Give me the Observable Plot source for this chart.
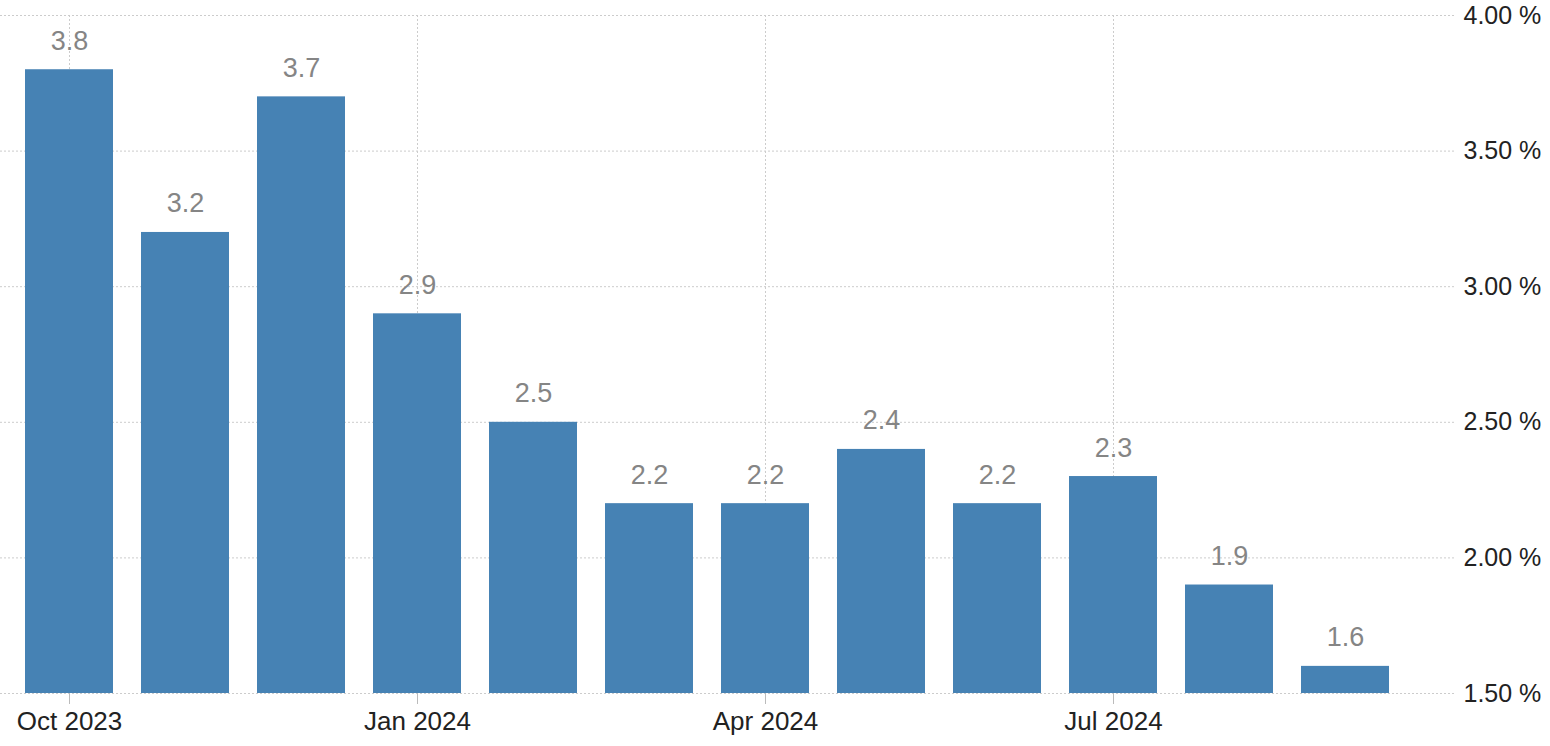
<!DOCTYPE html>
<html>
<head>
<meta charset="utf-8">
<script src="https://cdn.jsdelivr.net/npm/d3@7"></script>
<script src="https://cdn.jsdelivr.net/npm/@observablehq/plot@0.6"></script>
<style>
  html, body { margin: 0; padding: 0; background: #fff; }
  #chart svg { display: block; }
</style>
</head>
<body>
<div id="chart"></div>
<script>
const months = ["Oct 2023","Nov 2023","Dec 2023","Jan 2024","Feb 2024","Mar 2024","Apr 2024","May 2024","Jun 2024","Jul 2024","Aug 2024","Sep 2024"];
const values = [3.8, 3.2, 3.7, 2.9, 2.5, 2.2, 2.2, 2.4, 2.2, 2.3, 1.9, 1.6];
const xTicks = ["Oct 2023","Jan 2024","Apr 2024","Jul 2024"];
const yTicks = [1.5, 2.0, 2.5, 3.0, 3.5, 4.0];

const data = months.map((m, i) => ({month: m, value: values[i]}));

const chart = Plot.plot({
  width: 1550,
  height: 746,
  marginLeft: 0,
  marginRight: 95,
  marginTop: 15,
  marginBottom: 53,
  style: {fontFamily: "'Liberation Sans', Arial, sans-serif", fontSize: "26px", background: "#fff"},
  x: {type: "band", domain: months, range: [8, 1405], padding: 0.244, paddingOuter: 0.122, label: null},
  y: {domain: [1.5, 4.0], label: null},
  marks: [
    Plot.ruleY(yTicks, {y: d => d, stroke: "#cccccc", strokeDasharray: "2,2", strokeWidth: 1}),
    Plot.ruleX(xTicks, {x: d => d, stroke: "#cccccc", strokeDasharray: "2,2", strokeWidth: 1}),
    Plot.barY(data, {x: "month", y1: 1.5, y2: "value", fill: "#4682b4"}),
    Plot.text(data, {x: "month", y: "value", text: d => d.value.toFixed(1), lineAnchor: "bottom", dy: -20, fill: "#858585", fontSize: 27}),
    Plot.axisY({anchor: "right", ticks: yTicks, tickSize: 0, tickPadding: 8, textAnchor: "start", tickFormat: d => d.toFixed(2) + " %", fill: "#222", fontSize: 25}),
    Plot.axisX({ticks: xTicks, tickSize: 11, tickPadding: 7, stroke: "#bbb", fill: "#222", fontSize: 26})
  ]
});
document.getElementById("chart").appendChild(chart);
</script>
</body>
</html>
